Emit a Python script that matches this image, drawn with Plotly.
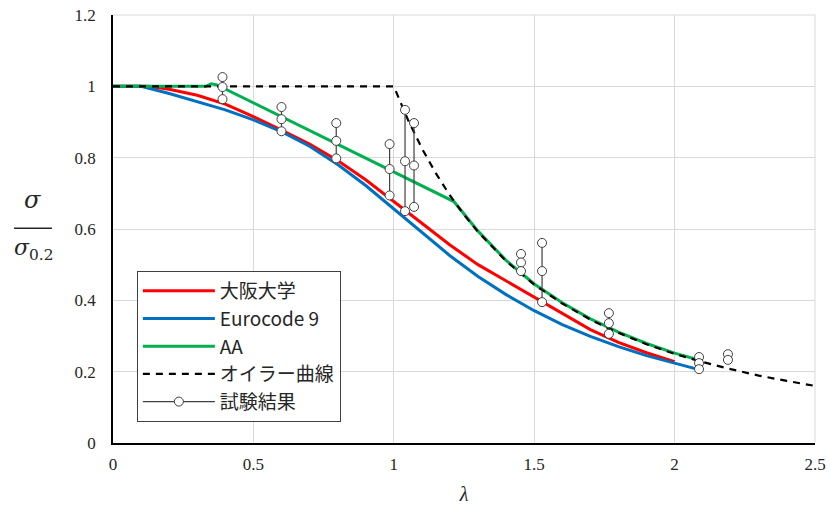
import plotly.graph_objects as go

# Osaka University curve
osaka_x = [0, 0.1, 0.125, 0.2, 0.3, 0.4, 0.5, 0.6, 0.7, 0.8, 0.9, 1.0, 1.1, 1.2, 1.3, 1.4, 1.5, 1.6, 1.7, 1.8, 1.9, 2.0]
osaka_y = [1.0, 1.0, 1.0, 0.992, 0.975, 0.95, 0.915, 0.877, 0.838, 0.792, 0.738, 0.677, 0.615, 0.555, 0.50, 0.455, 0.41, 0.363, 0.318, 0.282, 0.253, 0.228]

# Eurocode 9
ec9_x = [0, 0.1, 0.2, 0.3, 0.4, 0.5, 0.6, 0.7, 0.8, 0.9, 1.0, 1.1, 1.2, 1.3, 1.4, 1.5, 1.6, 1.7, 1.8, 1.9, 2.0, 2.08]
ec9_y = [1.0, 1.0, 0.980, 0.958, 0.934, 0.906, 0.873, 0.832, 0.781, 0.722, 0.656, 0.589, 0.525, 0.467, 0.416, 0.371, 0.332, 0.299, 0.270, 0.245, 0.223, 0.207]

# AA
aa_x = [0, 0.33, 0.35, 0.37, 1.214, 1.3, 1.4, 1.5, 1.6, 1.7, 1.8, 1.9, 2.0, 2.08]
aa_y = [1.0, 1.0, 1.007, 1.004, 0.677, 0.594, 0.512, 0.446, 0.393, 0.348, 0.311, 0.279, 0.252, 0.234]

# Euler curve
euler_x = [0, 1.0, 1.05, 1.1, 1.15, 1.2, 1.25, 1.3, 1.4, 1.5, 1.6, 1.7, 1.8, 1.9, 2.0, 2.1, 2.2, 2.3, 2.4, 2.5]
euler_y = [1.0, 1.0, 0.907, 0.826, 0.756, 0.694, 0.640, 0.592, 0.510, 0.444, 0.391, 0.346, 0.309, 0.277, 0.250, 0.227, 0.207, 0.189, 0.174, 0.160]

# Test results (groups at the same slenderness)
test_lambda = [0.39, 0.60, 0.795, 0.985, 1.04, 1.072, 1.453, 1.528, 1.766, 2.087, 2.19]
test_values = [
    [1.026, 0.998, 0.964],
    [0.942, 0.908, 0.874],
    [0.897, 0.847, 0.798],
    [0.838, 0.768, 0.694],
    [0.934, 0.790, 0.650],
    [0.897, 0.778, 0.662],
    [0.530, 0.506, 0.482],
    [0.561, 0.482, 0.395],
    [0.364, 0.336, 0.306],
    [0.241, 0.224, 0.207],
    [0.249, 0.233],
]

tx, ty = [], []
for lam, vals in zip(test_lambda, test_values):
    for v in vals:
        tx.append(lam)
        ty.append(v)
    tx.append(None)
    ty.append(None)

fig = go.Figure()
fig.add_trace(go.Scatter(x=osaka_x, y=osaka_y, mode="lines", name="大阪大学",
                         line=dict(color="#FF0000", width=3)))
fig.add_trace(go.Scatter(x=ec9_x, y=ec9_y, mode="lines", name="Eurocode 9",
                         line=dict(color="#0070C0", width=3)))
fig.add_trace(go.Scatter(x=aa_x, y=aa_y, mode="lines", name="AA",
                         line=dict(color="#00B050", width=3)))
fig.add_trace(go.Scatter(x=euler_x, y=euler_y, mode="lines", name="オイラー曲線",
                         line=dict(color="black", width=2.2, dash="7px,6px")))
fig.add_trace(go.Scatter(x=tx, y=ty, mode="lines+markers", name="試験結果",
                         line=dict(color="#404040", width=1.2),
                         marker=dict(symbol="circle", size=9, color="white",
                                     line=dict(color="#404040", width=1)),
                         connectgaps=False))

tick_font = dict(family="Liberation Serif", size=17, color="#262626")

fig.update_layout(
    width=831, height=516,
    margin=dict(l=113, r=16, t=15, b=73),
    plot_bgcolor="white", paper_bgcolor="white",
    showlegend=True,
    legend=dict(x=0.034, y=0.402, xanchor="left", yanchor="top",
                bgcolor="white", bordercolor="#404040", borderwidth=1,
                font=dict(family="Noto Sans CJK JP", size=19, color="#262626"),
                tracegroupgap=0, itemwidth=72),
    xaxis=dict(range=[0, 2.5], tickvals=[0, 0.5, 1, 1.5, 2, 2.5],
               ticktext=["0", "0.5", "1", "1.5", "2", "2.5"],
               showgrid=True, gridcolor="#D9D9D9", gridwidth=1,
               showline=True, linecolor="black", linewidth=1.5,
               zeroline=False, ticks="", tickfont=tick_font, automargin=False,
               ticklabelstandoff=5, ticklabeloverflow="allow",
               title=dict(text="<i>λ</i>", font=dict(family="Liberation Serif", size=20, color="#262626"),
                          standoff=14)),
    yaxis=dict(range=[0, 1.2], tickvals=[0, 0.2, 0.4, 0.6, 0.8, 1.0, 1.2],
               ticktext=["0", "0.2", "0.4", "0.6", "0.8", "1", "1.2"],
               showgrid=True, gridcolor="#D9D9D9", gridwidth=1,
               showline=True, linecolor="black", linewidth=1.5,
               zeroline=False, ticks="", tickfont=tick_font, ticklabelstandoff=12,
               ticklabeloverflow="allow", automargin=False),
)

# edge gridlines (at 1.2 and 2.5)
fig.add_shape(type="line", xref="paper", yref="paper", x0=0, x1=1, y0=1, y1=1,
              line=dict(color="#D9D9D9", width=1), layer="below")
fig.add_shape(type="line", xref="paper", yref="paper", x0=1, x1=1, y0=0, y1=1,
              line=dict(color="#D9D9D9", width=1), layer="below")

# y-axis title as a fraction sigma / sigma_0.2
fig.add_annotation(xref="paper", yref="paper", x=-0.115, y=0.53, xanchor="center", yanchor="bottom",
                   text="<i>σ</i>", showarrow=False,
                   font=dict(family="DejaVu Serif", size=24, color="#262626"))
fig.add_annotation(xref="paper", yref="paper", x=-0.113, y=0.49, xanchor="center", yanchor="top",
                   text="<i>σ</i><sub>0.2</sub>", showarrow=False,
                   font=dict(family="DejaVu Serif", size=22, color="#262626"))
fig.add_shape(type="line", xref="paper", yref="paper", x0=-0.141, x1=-0.087, y0=0.502, y1=0.502,
              line=dict(color="#262626", width=1.5))

fig.write_html("out.html", config={"displayModeBar": False},
               post_script="document.body.style.margin='0';document.body.style.padding='0';")
